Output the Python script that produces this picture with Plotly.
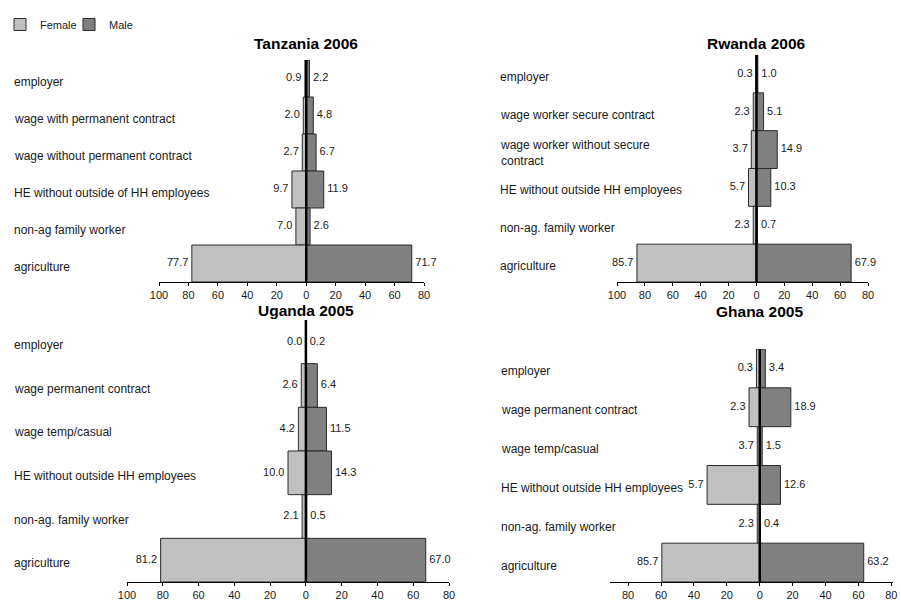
import plotly.graph_objects as go

W, H = 901, 601

# ---------------- data ----------------
tz_categories = ["employer", "wage with permanent contract", "wage without permanent contract",
                 "HE without outside of HH employees", "non-ag family worker", "agriculture"]
tz_female = [0.9, 2.0, 2.7, 9.7, 7.0, 77.7]
tz_male = [2.2, 4.8, 6.7, 11.9, 2.6, 71.7]

rw_categories = ["employer", "wage worker secure contract", "wage worker without secure<br>contract",
                 "HE without outside HH employees", "non-ag. family worker", "agriculture"]
rw_female = [0.3, 2.3, 3.7, 5.7, 2.3, 85.7]
rw_male = [1.0, 5.1, 14.9, 10.3, 0.7, 67.9]

ug_categories = ["employer", "wage permanent contract", "wage temp/casual",
                 "HE without outside HH employees", "non-ag. family worker", "agriculture"]
ug_female = [0.0, 2.6, 4.2, 10.0, 2.1, 81.2]
ug_male = [0.2, 6.4, 11.5, 14.3, 0.5, 67.0]

gh_categories = ["employer", "wage permanent contract", "wage temp/casual",
                 "HE without outside HH employees", "non-ag. family worker", "agriculture"]
# in the source chart the Ghana female bars and their printed labels disagree
gh_female_bar = [2.0, 6.5, 1.5, 32.0, 1.5, 59.5]
gh_female_label = [0.3, 2.3, 3.7, 5.7, 2.3, 85.7]
gh_male = [3.4, 18.9, 1.5, 12.6, 0.4, 63.2]

ticks_full = [-100, -80, -60, -40, -20, 0, 20, 40, 60, 80]
ticks_ghana = [-80, -60, -40, -20, 0, 20, 40, 60, 80]

# ---------------- style ----------------
FONT = "Arial, 'Liberation Sans', sans-serif"
FEMALE_COLOR = "#c0c0c0"
MALE_COLOR = "#808080"
EDGE = "#2a2a2a"
TEXT = "#1a1a1a"

panels = [
    dict(title="Tanzania 2006", cats=tz_categories, fbar=tz_female, flab=tz_female, male=tz_male,
         xpx=(159, 424), ypx=(60, 282), xrange=(-100, 80), ticks=ticks_full, label_x=12, title_y=43),
    dict(title="Rwanda 2006", cats=rw_categories, fbar=rw_female, flab=rw_female, male=rw_male,
         xpx=(617, 868), ypx=(55, 282), xrange=(-100, 80), ticks=ticks_full, label_x=498, title_y=43),
    dict(title="Uganda 2005", cats=ug_categories, fbar=ug_female, flab=ug_female, male=ug_male,
         xpx=(127, 449), ypx=(320, 582), xrange=(-100, 80), ticks=ticks_full, label_x=12, title_y=310),
    dict(title="Ghana 2005", cats=gh_categories, fbar=gh_female_bar, flab=gh_female_label, male=gh_male,
         xpx=(610, 893), ypx=(349, 582), xrange=(-91, 81), ticks=ticks_ghana, label_x=499, title_y=311),
]

fig = go.Figure()
layout = dict(
    width=W, height=H, margin=dict(l=0, r=0, t=0, b=0, autoexpand=False),
    paper_bgcolor="white", plot_bgcolor="white",
    font=dict(family=FONT, size=11, color=TEXT),
    barmode="overlay", bargap=0,
    showlegend=True, hovermode=False,
    legend=dict(orientation="h", x=0.0, y=1 - 10 / H, xanchor="left", yanchor="top",
                font=dict(size=11, color=TEXT), bgcolor="rgba(0,0,0,0)",
                itemwidth=30, entrywidth=24, entrywidthmode="pixels",
                tracegroupgap=0, traceorder="normal"),
)
annotations = []
shapes = []

for i, p in enumerate(panels, start=1):
    xa = "x" if i == 1 else f"x{i}"
    ya = "y" if i == 1 else f"y{i}"
    xkey = "xaxis" if i == 1 else f"xaxis{i}"
    ykey = "yaxis" if i == 1 else f"yaxis{i}"
    female_x = [-v for v in p["fbar"]]

    fig.add_trace(go.Bar(
        orientation="h", y=p["cats"], x=female_x,
        marker=dict(color=FEMALE_COLOR, line=dict(color=EDGE, width=1)),
        name="Female", legendgroup="Female", showlegend=(i == 1),
        xaxis=xa, yaxis=ya,
    ))
    fig.add_trace(go.Bar(
        orientation="h", y=p["cats"], x=p["male"],
        marker=dict(color=MALE_COLOR, line=dict(color=EDGE, width=1)),
        name="Male", legendgroup="Male", showlegend=(i == 1),
        xaxis=xa, yaxis=ya,
    ))
    # value labels just beyond the bar ends
    fig.add_trace(go.Scatter(
        x=female_x, y=p["cats"], mode="markers+text",
        text=[f"{v:.1f}" for v in p["flab"]], textposition="middle left",
        textfont=dict(size=11, color=TEXT), marker=dict(size=4, opacity=0),
        cliponaxis=False, showlegend=False, xaxis=xa, yaxis=ya,
    ))
    fig.add_trace(go.Scatter(
        x=p["male"], y=p["cats"], mode="markers+text",
        text=[f"{v:.1f}" for v in p["male"]], textposition="middle right",
        textfont=dict(size=11, color=TEXT), marker=dict(size=4, opacity=0),
        cliponaxis=False, showlegend=False, xaxis=xa, yaxis=ya,
    ))

    x0, x1 = p["xpx"]
    y0, y1 = p["ypx"]
    layout[xkey] = dict(
        domain=[x0 / W, x1 / W], range=list(p["xrange"]), anchor=ya,
        showline=True, linecolor="#000", linewidth=1,
        ticks="outside", ticklen=3, tickcolor="#000", tickwidth=1,
        tickvals=p["ticks"], ticktext=[str(abs(t)) for t in p["ticks"]],
        tickfont=dict(size=11, color=TEXT),
        showgrid=False, zeroline=False, fixedrange=True,
    )
    layout[ykey] = dict(
        domain=[1 - y1 / H, 1 - y0 / H], anchor=xa, type="category",
        categoryorder="array", categoryarray=p["cats"],
        range=[len(p["cats"]) - 0.5, -0.5],
        showticklabels=False, showgrid=False, showline=False, ticks="",
        zeroline=False, fixedrange=True,
    )

    # zero reference line on top of the bars
    shapes.append(dict(type="line", xref=xa, x0=0, x1=0, yref=f"{ya} domain", y0=0, y1=1,
                       line=dict(color="#000", width=2.5), layer="above"))

    # panel title
    annotations.append(dict(text=f"<b>{p['title']}</b>", xref=xa, x=0, yref="paper",
                            y=1 - p["title_y"] / H, xanchor="center", yanchor="middle",
                            showarrow=False, font=dict(size=15.5, color="#000")))

    # category labels, left aligned
    for c in p["cats"]:
        annotations.append(dict(text=c, xref="paper", x=p["label_x"] / W, xanchor="left",
                                yref=ya, y=c, yanchor="middle", yshift=-3, align="left",
                                showarrow=False, font=dict(size=12, color=TEXT)))

layout["annotations"] = annotations
layout["shapes"] = shapes
fig.update_layout(**layout)
fig.write_html(
    "out.html",
    config={"displayModeBar": False, "staticPlot": True},
    post_script="document.body.style.margin='0';document.body.style.padding='0';"
                "document.documentElement.style.overflow='hidden';",
)
